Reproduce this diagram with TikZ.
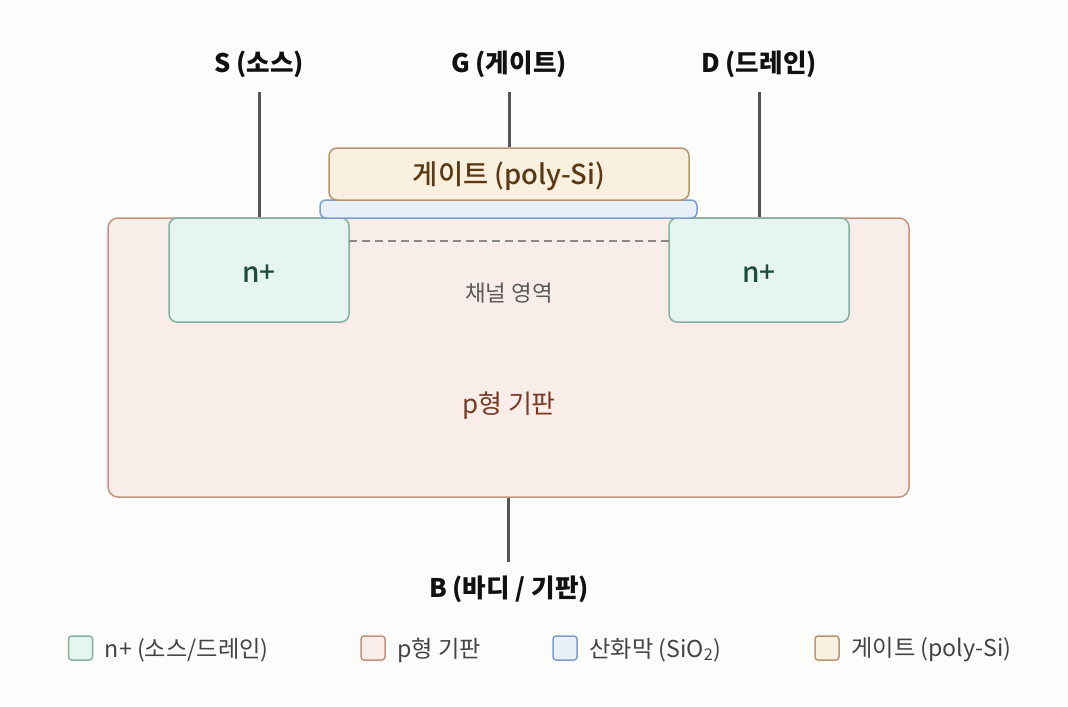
\documentclass[tikz,border=0pt]{standalone}
\usepackage{fontspec}
\setmainfont{Noto Sans CJK KR}
\newfontfamily\medfont{Noto Sans CJK KR}[UprightFont={* Medium}]
\definecolor{bgC}{HTML}{FCFCFA}
\definecolor{subF}{HTML}{F9EDE9}\definecolor{subD}{HTML}{C4937F}
\definecolor{nF}{HTML}{E6F5EF}\definecolor{nD}{HTML}{86B09F}
\definecolor{oxF}{HTML}{E8F0FA}\definecolor{oxD}{HTML}{7E9FCE}
\definecolor{gtF}{HTML}{FAF0DF}\definecolor{gtD}{HTML}{B99670}
\definecolor{lineC}{HTML}{555555}\definecolor{dashC}{HTML}{888888}
\definecolor{nT}{HTML}{1E4D3B}\definecolor{gtT}{HTML}{5B3A13}
\definecolor{subT}{HTML}{7A3A22}\definecolor{chT}{HTML}{5A5A5A}
\definecolor{keyT}{HTML}{444444}\definecolor{ttlT}{HTML}{111111}
\begin{document}
\begin{tikzpicture}[x=0.5pt,y=-0.5pt,line join=round,line cap=round,
    region/.style={draw,line width=0.75pt,rounded corners=4pt,inner sep=0pt},
    ntxt/.style={font=\medfont\fontsize{14}{16}\selectfont,text=nT},
    term/.style={line width=1.5pt,draw=lineC,line cap=butt},
    ttl/.style={font=\bfseries\fontsize{12.8}{14}\selectfont,text=ttlT,yshift=-1pt},
    keybox/.style={region,minimum size=12pt,rounded corners=1.5pt},
    keytxt/.style={anchor=west,inner sep=0pt,yshift=-1pt,font=\fontsize{11.6}{13}\selectfont,text=keyT}]
    \fill[bgC] (0,0) rectangle (1068,706);
    \useasboundingbox (0,0) rectangle (1068,706);
    % layers
    \node[region,fill=subF,draw=subD,rounded corners=5pt,minimum width=400.5pt,minimum height=139.5pt] (sub) at (508.5,357.5) {};
    \node[region,fill=nF,draw=nD,minimum width=90pt,minimum height=52pt] (src) at (259,270) {};
    \node[region,fill=nF,draw=nD,minimum width=90pt,minimum height=52pt] (drn) at (759,270) {};
    \node[ntxt] (srcTxt) at ([yshift=-2pt]src.center) {n+};
    \node[ntxt] (drnTxt) at ([yshift=-2pt]drn.center) {n+};
    \node[region,fill=oxF,draw=oxD,rounded corners=3pt,minimum width=188.5pt,minimum height=9pt] (ox) at (508.5,209) {};
    \node[region,fill=gtF,draw=gtD,minimum width=180pt,minimum height=26pt] (gate) at (509,174) {};
    \node[font=\medfont\fontsize{13.7}{15}\selectfont,text=gtT] (gateTxt) at ([yshift=-1pt]gate.center) {게이트 (poly-Si)};
    \coordinate (chL) at (349,241);
    \coordinate (chR) at (669,241);
    \draw[dashC,line width=1pt,line cap=butt,dash pattern=on 4pt off 2.5pt] (chL)--(chR);
    \node[text=chT,font=\fontsize{11.2}{13}\selectfont,yshift=-0.5pt] (chan) at (509,292) {채널 영역};
    \node[text=subT,font=\fontsize{13}{15}\selectfont,yshift=-1pt] (subLbl) at (509,404) {p형 기판};
    % terminals
    \node[ttl] (sLbl) at (259,62) {S (소스)};
    \node[ttl] (gLbl) at (509,62) {G (게이트)};
    \node[ttl] (dLbl) at (759,62) {D (드레인)};
    \node[ttl,yshift=-0.5pt] (bLbl) at (509,586) {B (바디 / 기판)};
    \coordinate (sTop) at (259,92);
    \coordinate (gTop) at (509,92);
    \coordinate (dTop) at (759,92);
    \coordinate (bBot) at (508.5,562);
    \draw[term] (sTop)--(src.north) (gTop)--(gate.north) (dTop)--(drn.north) (sub.south)--(bBot);
    % legend
    \foreach \x/\col/\txt [count=\i] in {80.5/n/{n+ (소스/드레인)},373/sub/{p형 기판},565/ox/{산화막 (SiO\textsubscript{2})},827/gt/{게이트 (poly-Si)}}{
        \node[keybox,fill=\col F,draw=\col D] (key\i) at (\x,648) {};
        \node[keytxt] (keyTxt\i) at (\x+24,648) {\txt};
    }
\end{tikzpicture}
\end{document}
